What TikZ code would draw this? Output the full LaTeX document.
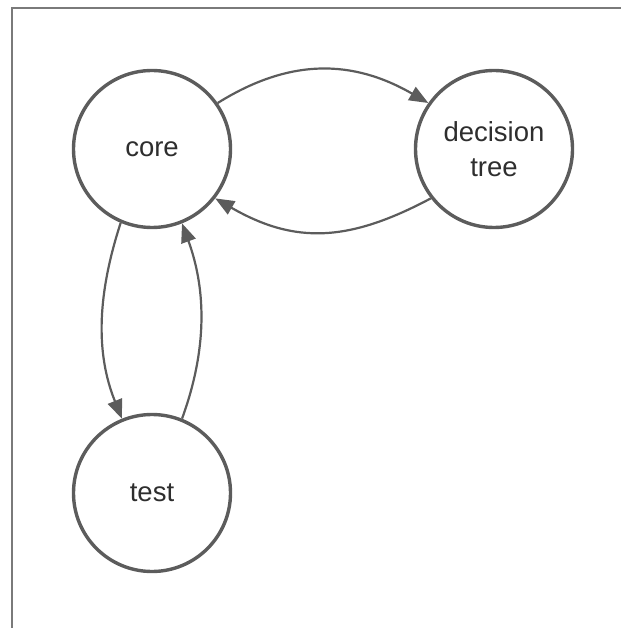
\documentclass[tikz,border=0pt]{standalone}
\usepackage{fontspec}
\setmainfont{Liberation Sans}
\usetikzlibrary{arrows.meta}
\definecolor{linegray}{HTML}{5C5C5C}
\definecolor{framegray}{HTML}{7A7A7A}
\definecolor{textgray}{HTML}{2E2E2E}
\begin{document}
\begin{tikzpicture}[x=1pt,y=-1pt,
  state/.style={circle,draw=linegray,line width=3.4pt,minimum size=157pt,inner sep=0pt,
    text=textgray,font=\fontsize{27.5}{35}\selectfont,align=center},
  conn/.style={draw=linegray,line width=2.2pt,-{Triangle[length=19pt,width=15pt]}}]
\useasboundingbox (0,0) rectangle (621,628);
\draw[framegray,line width=2pt] (11.5,628) -- (11.5,8) -- (621,8);
\node[state] (core) at (152,149) {core};
\node[state] (dt) at (494,149) {decision\\tree};
\node[state] (test) at (152,493) {test};
\draw[conn] (core.35) to[out=32,in=150,looseness=1.05] (dt.145);
\draw[conn] (dt.218) to[out=208,in=330,looseness=1.1] (core.322);
\draw[conn] (core.247) to[out=252,in=112,looseness=0.95] (test.112);
\draw[conn] (test.68) to[out=70,in=290,looseness=0.95] (core.292);
\end{tikzpicture}
\end{document}
